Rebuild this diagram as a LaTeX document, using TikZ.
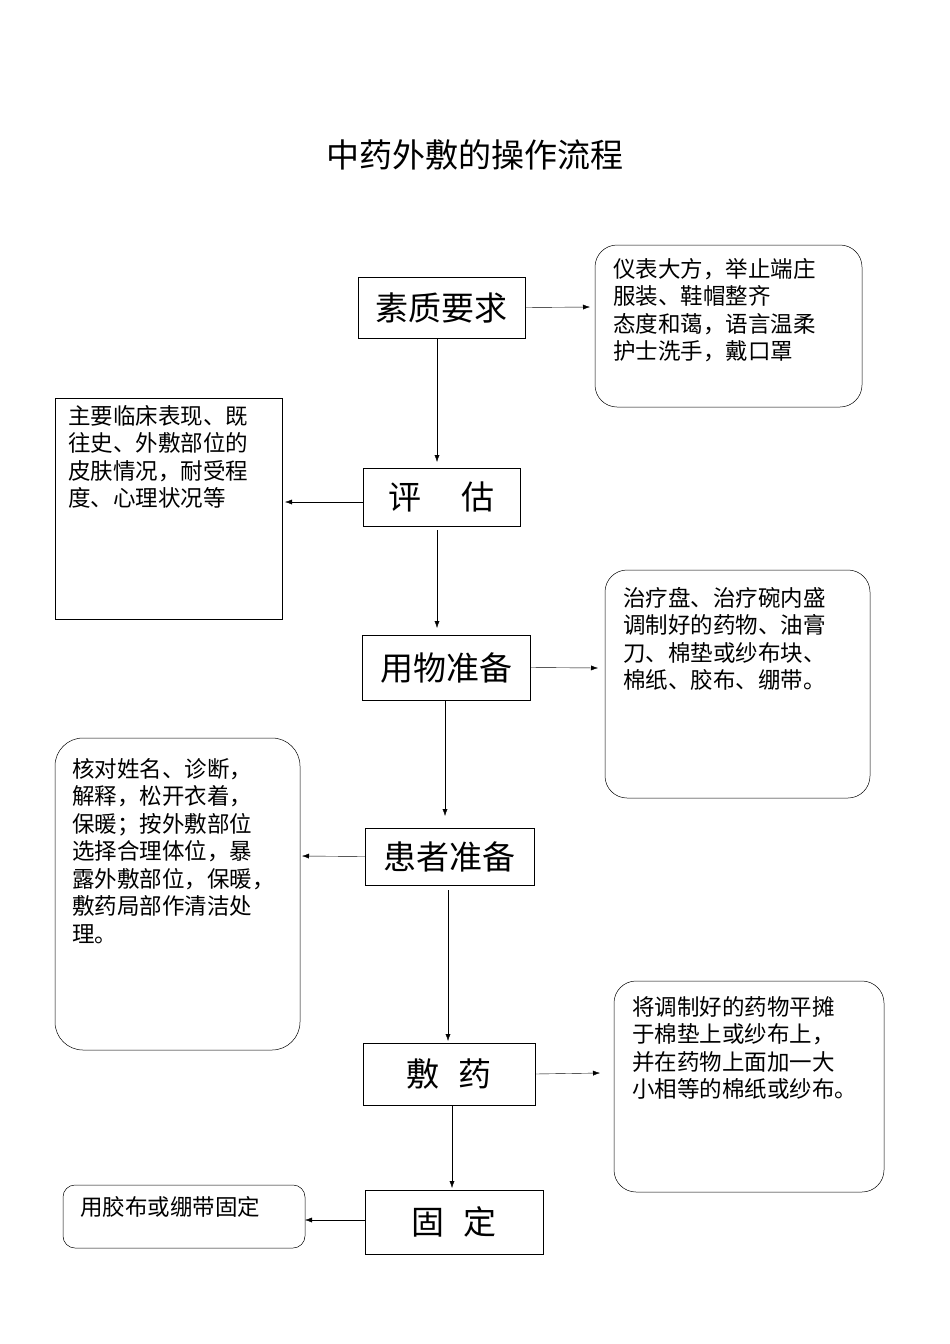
\documentclass[tikz,border=0pt]{standalone}
\usepackage{fontspec}
\newfontfamily\cjk{Noto Sans CJK SC}
\usetikzlibrary{arrows.meta}
\begin{document}
\begin{tikzpicture}[x=1pt,y=-1pt,font=\cjk,
  mainbox/.style={draw,line width=0.5pt,font=\cjk\fontsize{33}{36}\selectfont,inner sep=0pt},
  notebox/.style={draw,line width=0.5pt},
  note/.style={anchor=north west,align=left,font=\cjk\fontsize{22.5}{27.5}\selectfont,inner sep=0pt},
  arr/.style={-{Latex[length=7pt,width=5pt]},line width=0.4pt}]
\useasboundingbox (0,0) rectangle (950,1344);
\node (title) at (475,155) {\fontsize{33}{36}\selectfont 中药外敷的操作流程};
% boxes
\node[mainbox,minimum width=167pt,minimum height=61pt] (b1) at (441.5,307.5) {素质要求};
\node[mainbox,minimum width=157pt,minimum height=58pt] (b2) at (441.5,497) {评\hspace{1.2em}估};
\node[mainbox,minimum width=168pt,minimum height=65pt] (b3) at (446,667.5) {用物准备};
\node[mainbox,minimum width=169pt,minimum height=57pt] (b4) at (449.5,856.5) {患者准备};
\node[mainbox,minimum width=172pt,minimum height=62pt] (b5) at (449,1074) {敷\hspace{0.6em}药};
\node[mainbox,minimum width=178pt,minimum height=64pt] (b6) at (454,1222) {固\hspace{0.6em}定};
% notes
\draw[notebox,rounded corners=22pt] (595,245) rectangle (862,407);
\node[note] (n1) at (613,258) {仪表大方，举止端庄\\服装、鞋帽整齐\\态度和蔼，语言温柔\\护士洗手，戴口罩};
\draw[notebox] (55,398) rectangle (282,619);
\node[note] (n2) at (68,405) {主要临床表现、既\\往史、外敷部位的\\皮肤情况，耐受程\\度、心理状况等};
\draw[notebox,rounded corners=22pt] (605,570) rectangle (870,798);
\node[note] (n3) at (623,587) {治疗盘、治疗碗内盛\\调制好的药物、油膏\\刀、棉垫或纱布块、\\棉纸、胶布、绷带。};
\draw[notebox,rounded corners=28pt] (55,738) rectangle (300,1050);
\node[note] (n4) at (72,758) {核对姓名、诊断，\\解释，松开衣着，\\保暖；按外敷部位\\选择合理体位，暴\\露外敷部位，保暖，\\敷药局部作清洁处\\理。};
\draw[notebox,rounded corners=22pt] (614,981) rectangle (884,1192);
\node[note] (n5) at (632,996) {将调制好的药物平摊\\于棉垫上或纱布上，\\并在药物上面加一大\\小相等的棉纸或纱布。};
\draw[notebox,rounded corners=12pt] (63,1185) rectangle (305,1248);
\node[note] (n6) at (80,1196) {用胶布或绷带固定};
% coordinates for arrow ends
\coordinate (a1) at (590,307);
\coordinate (a2) at (285,502);
\coordinate (a3) at (598,668);
\coordinate (a4) at (302,856);
\coordinate (a5) at (600,1073);
\coordinate (a6) at (305,1220);
\draw[arr] (b1.east) -- (a1);
\draw[arr] (b2.west|-a2) -- (a2);
\draw[arr] (b3.east) -- (a3);
\draw[arr] (b4.west) -- (a4);
\draw[arr] (b5.east) -- (a5);
\draw[arr] (b6.west|-a6) -- (a6);
\draw[arr] (437,338) -- (437,462);
\draw[arr] (437,530) -- (437,628);
\draw[arr] (445,700) -- (445,816);
\draw[arr] (448,890) -- (448,1041);
\draw[arr] (452,1105) -- (452,1188);
\end{tikzpicture}
\end{document}
